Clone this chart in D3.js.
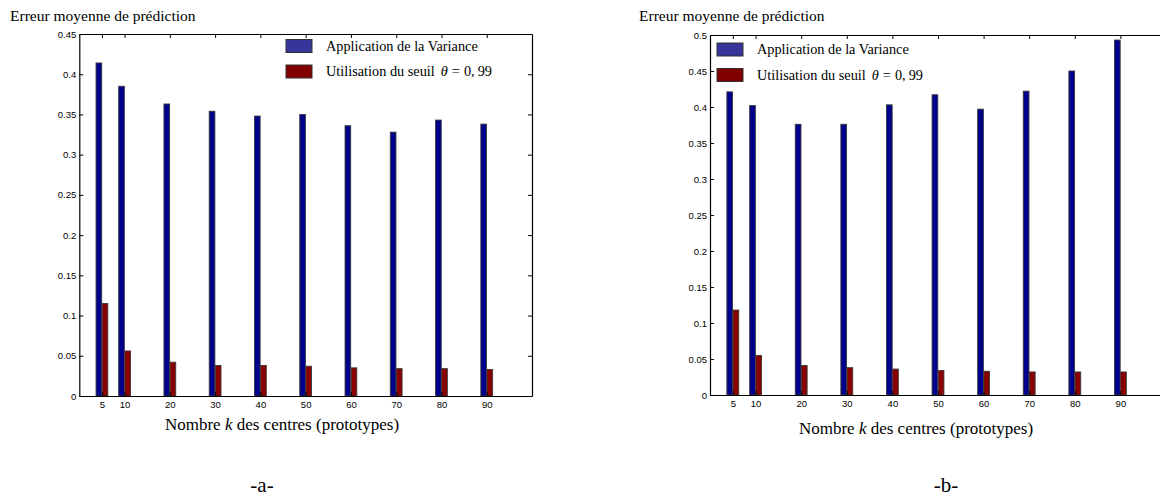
<!DOCTYPE html>
<html>
<head>
<meta charset="utf-8">
<script src="https://cdn.jsdelivr.net/npm/d3@7/dist/d3.min.js"></script>
<style>
  html, body { margin: 0; padding: 0; background: #fff; }
  svg { display: block; }
  .tick text { font-family: "Liberation Sans", Arial, sans-serif; font-size: 9.5px; fill: #000; }
  .serif { font-family: "Liberation Serif", "Times New Roman", serif; fill: #000; }
</style>
</head>
<body>
<svg id="fig" width="1160" height="502"></svg>
<script>
// Number of centres k (prototypes)
const kValues = [5, 10, 20, 30, 40, 50, 60, 70, 80, 90];

// Panel a: mean prediction error
const varianceA = [0.414, 0.385, 0.363, 0.354, 0.348, 0.350, 0.336, 0.328, 0.343, 0.338];
const seuilA    = [0.115, 0.056, 0.042, 0.038, 0.038, 0.037, 0.035, 0.034, 0.034, 0.033];

// Panel b: mean prediction error
const varianceB = [0.421, 0.402, 0.376, 0.376, 0.403, 0.417, 0.397, 0.422, 0.450, 0.493];
const seuilB    = [0.118, 0.055, 0.041, 0.038, 0.036, 0.034, 0.033, 0.032, 0.032, 0.032];

// Axis ticks
const yTicksA = [0, 0.05, 0.1, 0.15, 0.2, 0.25, 0.3, 0.35, 0.4, 0.45];
const yTickLabelsA = ["0", "0.05", "0.1", "0.15", "0.2", "0.25", "0.3", "0.35", "0.4", "0.45"];
const yTicksB = [0, 0.05, 0.1, 0.15, 0.2, 0.25, 0.3, 0.35, 0.4, 0.45, 0.5];
const yTickLabelsB = ["0", "0.05", "0.1", "0.15", "0.2", "0.25", "0.3", "0.35", "0.4", "0.45", "0.5"];

const seriesNames = ["Application de la Variance", "Utilisation du seuil"];
const barColors = ["#00008c", "#8a0000"];
const swatchColors = ["#35359a", "#800000"];

const svg = d3.select("#fig");

function panel(cfg) {
  const x = d3.scaleLinear().domain([0, 100]).range([cfg.left, cfg.right]);
  const y = d3.scaleLinear().domain([0, cfg.yMax]).range([cfg.bottom, cfg.top]);
  const g = svg.append("g");

  // title above the y axis
  g.append("text").attr("class", "serif")
    .attr("x", cfg.titleX).attr("y", 21)
    .attr("font-size", 15.5)
    .text("Erreur moyenne de prédiction");

  // bars: variance (left of tick) and threshold (right of tick)
  const rows = kValues.map((k, i) => ({ k, v: cfg.variance[i], s: cfg.seuil[i] }));
  g.selectAll("rect.var").data(rows).join("rect")
    .attr("class", "var")
    .attr("x", d => x(d.k - 1.3))
    .attr("width", d => x(d.k - 0.05) - x(d.k - 1.3))
    .attr("y", d => y(d.v))
    .attr("height", d => y(0) - y(d.v))
    .attr("fill", barColors[0])
    .attr("stroke", "#3a3a3a").attr("stroke-width", 0.9);
  g.selectAll("rect.seuil").data(rows).join("rect")
    .attr("class", "seuil")
    .attr("x", d => x(d.k + 0.05))
    .attr("width", d => x(d.k + 1.3) - x(d.k + 0.05))
    .attr("y", d => y(d.s))
    .attr("height", d => y(0) - y(d.s))
    .attr("fill", barColors[1])
    .attr("stroke", "#3a3a3a").attr("stroke-width", 0.9);

  // axes box with inward ticks
  const styleAxis = sel => {
    sel.select(".domain").attr("stroke", "#000").attr("stroke-width", 1.2);
    sel.selectAll(".tick line").attr("stroke", "#000").attr("stroke-width", 1);
  };
  g.append("g").attr("transform", `translate(0,${cfg.bottom})`)
    .call(d3.axisBottom(x).tickValues(kValues).tickFormat(d3.format("d"))
      .tickSize(-4).tickSizeOuter(0).tickPadding(5))
    .call(styleAxis);
  g.append("g").attr("transform", `translate(0,${cfg.top})`)
    .call(d3.axisTop(x).tickValues(kValues).tickFormat("")
      .tickSize(-4).tickSizeOuter(0))
    .call(styleAxis);
  g.append("g").attr("transform", `translate(${cfg.left},0)`)
    .call(d3.axisLeft(y).tickValues(cfg.yTicks).tickFormat((d, i) => cfg.yLabels[i])
      .tickSize(-4).tickSizeOuter(0).tickPadding(3))
    .call(styleAxis);
  g.append("g").attr("transform", `translate(${cfg.right},0)`)
    .call(d3.axisRight(y).tickValues(cfg.yTicks).tickFormat("")
      .tickSize(-4).tickSizeOuter(0))
    .call(styleAxis);
  g.selectAll(".tick text").attr("fill", "#000");

  // x axis title
  const xl = g.append("text").attr("class", "serif")
    .attr("x", cfg.xLabelX).attr("y", cfg.xLabelY)
    .attr("font-size", 17).attr("text-anchor", "middle");
  xl.append("tspan").text("Nombre ");
  xl.append("tspan").attr("font-style", "italic").text("k");
  xl.append("tspan").text(" des centres (prototypes)");

  // legend
  seriesNames.forEach((name, i) => {
    const ly = cfg.legendY + i * 25.5;
    g.append("rect")
      .attr("x", cfg.legendX).attr("y", ly)
      .attr("width", 26).attr("height", 13)
      .attr("fill", swatchColors[i]).attr("stroke", "#333").attr("stroke-width", 1);
    const t = g.append("text").attr("class", "serif")
      .attr("x", cfg.legendX + 40).attr("y", ly + 11)
      .attr("font-size", 14.3);
    t.append("tspan").text(name);
    if (i === 1) {
      t.append("tspan").attr("dx", 6).attr("font-style", "italic").text("θ");
      t.append("tspan").attr("dx", 4).text("=");
      t.append("tspan").attr("dx", 4).text("0,");
      t.append("tspan").attr("dx", 3).text("99");
    }
  });

  // panel caption
  svg.append("text").attr("class", "serif")
    .attr("x", cfg.captionX).attr("y", 492)
    .attr("font-size", 21).attr("text-anchor", "middle")
    .text(cfg.caption);
}

panel({
  left: 79.3, right: 532, top: 34, bottom: 396, yMax: 0.45,
  variance: varianceA, seuil: seuilA,
  yTicks: yTicksA, yLabels: yTickLabelsA,
  titleX: 10, xLabelX: 282, xLabelY: 430,
  legendX: 286, legendY: 39.5,
  captionX: 262, caption: "-a-"
});

panel({
  left: 710, right: 1166, top: 35, bottom: 395, yMax: 0.5,
  variance: varianceB, seuil: seuilB,
  yTicks: yTicksB, yLabels: yTickLabelsB,
  titleX: 639, xLabelX: 916, xLabelY: 434,
  legendX: 717, legendY: 43,
  captionX: 946, caption: "-b-"
});
</script>
</body>
</html>
